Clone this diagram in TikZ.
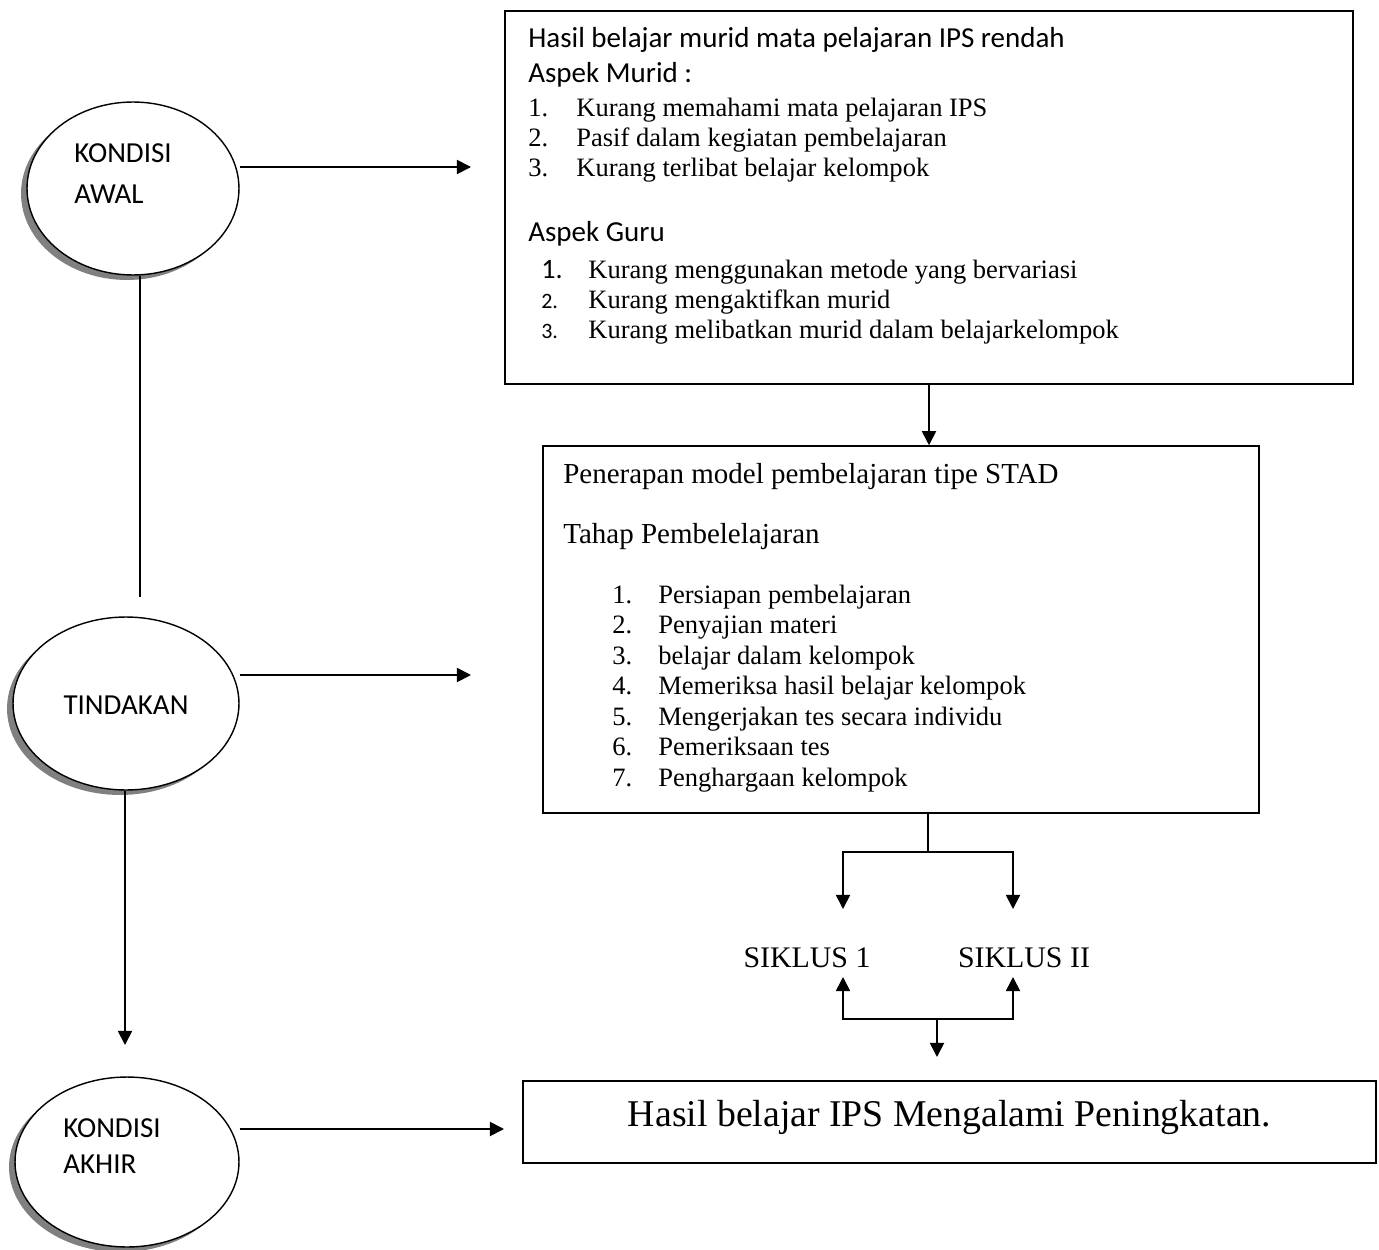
\documentclass[tikz,border=0pt]{standalone}
\usepackage{fontspec}
\setmainfont{Liberation Serif}
\newfontfamily\calibri{Carlito}
\usetikzlibrary{shapes.geometric,shadows,arrows.meta}

\begin{document}
\begin{tikzpicture}[x=0.02cm,y=-0.02cm,
    kondisi/.style={ellipse,draw,line width=0.8pt,fill=white,inner sep=0pt,
      drop shadow={shadow xshift=-0.12cm,shadow yshift=-0.1cm,fill=black!50,opacity=1}},
    kotak/.style={draw,line width=0.9pt,inner sep=0pt},
    garis/.style={line width=1pt},
    panah/.style={line width=1pt,-{Triangle[length=8pt,width=8pt]}},
    judul/.style={anchor=base west,inner sep=0pt,font=\calibri\fontsize{16.5}{20}\selectfont},
    kepala/.style={anchor=base west,inner sep=0pt,font=\fontsize{16.5}{20}\selectfont},
    butir/.style={anchor=base west,inner sep=0pt,font=\fontsize{15.1}{18}\selectfont}]
  \useasboundingbox (0,0) rectangle (1379,1250);

  % lingkaran kiri
  \node[kondisi,minimum width=4.24cm,minimum height=3.46cm] (awal) at (133,188.5) {};
  \node[kondisi,minimum width=4.52cm,minimum height=3.46cm] (tindakan) at (126,703.5) {};
  \node[kondisi,minimum width=4.48cm,minimum height=3.4cm] (akhir) at (127,1162) {};
  \node[judul] (awal1) at (74,163) {KONDISI};
  \node[judul] (awal2) at (74,204) {AWAL};
  \node[judul,anchor=base] (tindakan1) at (126,714) {TINDAKAN};
  \node[judul] (akhir1) at (63,1137) {KONDISI};
  \node[judul] (akhir2) at (63,1173) {AKHIR};

  % kotak kanan
  \node[kotak,minimum width=16.96cm,minimum height=7.46cm] (murid) at (929,197.5) {};
  \node[kotak,minimum width=14.32cm,minimum height=7.34cm] (stad) at (901,629.5) {};
  \node[kotak,minimum width=17.06cm,minimum height=1.64cm] (hasil) at (949.5,1122) {};

  % isi kotak murid
  \node[judul] (murid0) at (528,48) {Hasil belajar murid mata pelajaran IPS rendah};
  \node[judul] (murida) at (528,83) {Aspek Murid :};
  \foreach \t [count=\i] in {Kurang memahami mata pelajaran IPS,
      Pasif dalam kegiatan pembelajaran, Kurang terlibat belajar kelompok}
  {
    \node[butir] (nm\i) at (528,{87+30*\i}) {\i.};
    \node[butir] (m\i) at (576,{87+30*\i}) {\t};
  }
  \node[judul] (gurua) at (528,242) {Aspek Guru};
  \node[butir,font=\calibri\fontsize{16}{18}\selectfont] (ng1) at (541,278) {1.};
  \foreach \i in {2,3}
    \node[butir,font=\calibri\fontsize{12.5}{15}\selectfont] (ng\i) at (541,{248+30*\i}) {\i.};
  \foreach \t [count=\i] in {Kurang menggunakan metode yang bervariasi,
      Kurang mengaktifkan murid, Kurang melibatkan murid dalam belajarkelompok}
    \node[butir] (g\i) at (588,{248+30*\i}) {\t};

  % isi kotak stad
  \node[kepala] (stad0) at (563,483) {Penerapan model pembelajaran tipe STAD};
  \node[kepala] (stad1) at (563,543) {Tahap Pembelelajaran};
  \foreach \t [count=\i] in {Persiapan pembelajaran, Penyajian materi,
      belajar dalam kelompok, Memeriksa hasil belajar kelompok,
      Mengerjakan tes secara individu, Pemeriksaan tes, Penghargaan kelompok}
  {
    \node[butir] (nt\i) at (612,{572.5+30.5*\i}) {\i.};
    \node[butir] (t\i) at (658,{572.5+30.5*\i}) {\t};
  }

  \node[kepala,anchor=base,font=\fontsize{17}{20}\selectfont] (siklus1) at (807,967) {SIKLUS 1};
  \node[kepala,anchor=base,font=\fontsize{17}{20}\selectfont] (siklus2) at (1024,967) {SIKLUS II};
  \node[kepala,anchor=base,font=\fontsize{21.5}{26}\selectfont] (hasil0) at (949.5,1126)
    {Hasil belajar IPS Mengalami Peningkatan.};

  % titik bantu
  \coordinate (ujung1) at (471,167);
  \coordinate (ujung2) at (471,675);
  \coordinate (ujung3) at (504,1129);
  \coordinate (putus1) at (140,597);
  \coordinate (ujung4) at (125,1045);
  \coordinate (cabang) at (928,852);
  \coordinate (s1atas) at (843,909);
  \coordinate (s2atas) at (1013,909);
  \coordinate (gabung) at (937,1019);
  \coordinate (s1bawah) at (843,977);
  \coordinate (s2bawah) at (1013,977);
  \coordinate (ujung5) at (937,1057);

  % panah
  \draw[panah] (awal.east |- ujung1) -- (ujung1);
  \draw[panah] (tindakan.east |- ujung2) -- (ujung2);
  \draw[panah] (akhir.east |- ujung3) -- (ujung3);
  \draw[garis] (awal.south -| putus1) -- (putus1);
  \draw[panah] (tindakan.south -| ujung4) -- (ujung4);
  \draw[panah] (murid.south) -- (murid.south |- stad.north);
  \draw[garis] (stad.south -| cabang) -- (cabang);
  \draw[panah] (cabang) -| (s1atas);
  \draw[panah] (cabang) -| (s2atas);
  \draw[panah] (gabung) -| (s1bawah);
  \draw[panah] (gabung) -| (s2bawah);
  \draw[panah] (gabung) -- (ujung5);
\end{tikzpicture}
\end{document}
